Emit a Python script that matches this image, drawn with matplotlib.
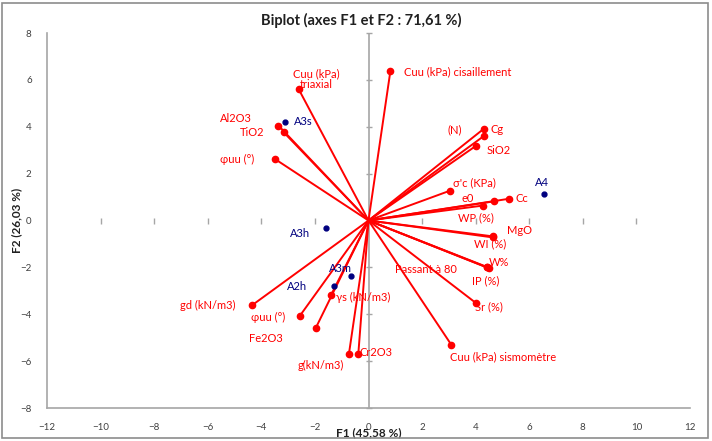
"""
Biplot (axes F1 et F2) recreated with matplotlib.
"""

import matplotlib
matplotlib.use("Agg")
import matplotlib.pyplot as plt
from matplotlib.patches import Rectangle

plt.rcParams["font.family"] = ["Lato", "DejaVu Sans"]

# --- colours ---
RED   = "#FF0000"
NAVY  = "#00007F"
GRAY  = "#A6A6A6"
TEXT  = "#404040"

# --- variables (red vectors) ---
var_names = [
    "Cuu (kPa)\ntriaxial", "Cuu (kPa) cisaillement", "Al2O3", "TiO2", "φuu (°)",
    "(N)", "Cg", "SiO2", "σ'c (KPa)", "e0", "Cc", "WP (%)", "MgO", "WI (%)",
    "W%", "IP (%)", "Passant à 80", "Sr (%)", "Cuu (kPa) sismomètre",
    "gd (kN/m3)", "φuu (°)", "Fe2O3", "γs (kN/m3)", "g(kN/m3)", "Cr2O3",
]
var_x = [-2.60, 0.82, -3.36, -3.17, -3.50,
         4.30, 4.30, 4.03, 3.06, 4.70, 5.26, 4.29, 4.66, 4.63,
         4.44, 4.48, 4.42, 4.02, 3.09,
         -4.35, -2.57, -1.97, -1.39, -0.73, -0.38]
var_y = [5.59, 6.40, 4.05, 3.77, 2.63,
         3.60, 3.91, 3.20, 1.28, 0.82, 0.93, 0.64, -0.68, -0.72,
         -1.99, -2.03, -2.00, -3.53, -5.30,
         -3.62, -4.08, -4.59, -3.16, -5.69, -5.69]

# --- observations (navy points) ---
obs_names = ["A3s", "A4", "A3h", "A3m", "A2h"]
obs_x = [-3.11, 6.54, -1.57, -0.67, -1.27]
obs_y = [4.22, 1.14, -0.33, -2.37, -2.81]

x_ticks = [-12, -10, -8, -6, -4, -2, 0, 2, 4, 6, 8, 10, 12]
y_ticks = [-8, -6, -4, -2, 0, 2, 4, 6, 8]

# label placement (offset in pixels from the point, horizontal alignment)
var_label_offsets = [
    (17, 10, "center"), (14, -1, "left"), (-43, 7, "center"), (-31, 0, "center"),
    (-38, -1, "center"), (-29, 6, "center"), (13, -1, "center"), (22, -5, "center"),
    (24, 8, "center"), (-27, 3, "center"), (12, 0, "center"), (-7, -12, "center"),
    (26, 6, "center"), (-2, -6, "center"), (12, 5, "center"), (-3, -13, "center"),
    (-61, -2, "center"), (13, -4, "center"), (-1, -12, "left"),
    (-44, 0, "center"), (-32, -1, "center"), (-50, -10, "center"), (32, -3, "center"),
    (-28, -12, "center"), (18, 1, "center"),
]
obs_label_offsets = [(18, 0), (-2, 11), (-26, -5), (-10, 8), (-37, 0)]


def main():
    fig = plt.figure(figsize=(7.12, 4.41), dpi=100)
    ax = fig.add_axes([47 / 712, 1 - 408 / 441, 643 / 712, 375 / 441])

    ax.set_xlim(x_ticks[0], x_ticks[-1])
    ax.set_ylim(y_ticks[0], y_ticks[-1])

    # zero lines: vertical axis with crossing ticks, horizontal only ticks
    ax.axvline(0, color=GRAY, linewidth=1.2, zorder=1)
    ax.plot([0] * len(y_ticks), y_ticks, linestyle="none", marker="_",
            markersize=4.5, markeredgewidth=1, color=GRAY, zorder=1, clip_on=False)
    ax.plot(x_ticks[1:-1], [0] * (len(x_ticks) - 2), linestyle="none", marker="|",
            markersize=4.5, markeredgewidth=1, color=GRAY, zorder=1)

    # variable vectors
    for x, y in zip(var_x, var_y):
        ax.plot([0, x], [0, y], color=RED, linewidth=1.4, zorder=2)
    ax.plot(var_x, var_y, linestyle="none", marker="o", markersize=4.5,
            color=RED, zorder=3)
    for name, x, y, (dx, dy, ha) in zip(var_names, var_x, var_y, var_label_offsets):
        ax.annotate(name, (x, y), xytext=(dx, dy), textcoords="offset pixels",
                    ha=ha, va="center", fontsize=8, color=RED,
                    multialignment="center", linespacing=1.0, zorder=4)

    # observations
    ax.plot(obs_x, obs_y, linestyle="none", marker="o", markersize=3.5,
            color=NAVY, zorder=3)
    for name, x, y, (dx, dy) in zip(obs_names, obs_x, obs_y, obs_label_offsets):
        ax.annotate(name, (x, y), xytext=(dx, dy), textcoords="offset pixels",
                    ha="center", va="center", fontsize=8, color=NAVY, zorder=4)

    # axes styling
    ax.set_xticks(x_ticks)
    ax.set_yticks(y_ticks)
    ax.tick_params(length=0, labelsize=7, colors=TEXT)
    ax.tick_params(axis="x", pad=11)
    ax.tick_params(axis="y", pad=11)
    for side in ["top", "right"]:
        ax.spines[side].set_visible(False)
    for side in ["left", "bottom"]:
        ax.spines[side].set_color(GRAY)
        ax.spines[side].set_linewidth(1.2)

    ax.set_xlabel("F1 (45,58 %)", fontsize=8.5, fontweight="bold", color="#202020")
    ax.xaxis.set_label_coords(0.5, -0.052)
    ax.set_ylabel("F2 (26,03 %)", fontsize=8.5, fontweight="bold", color="#202020")
    ax.yaxis.set_label_coords(-0.039, 0.5)

    fig.text(361 / 712, 1 - 20 / 441, "Biplot (axes F1 et F2 : 71,61 %)",
             ha="center", va="center", fontsize=10.5, fontweight="bold",
             color="#202020")

    # chart frame
    fig.patches.append(Rectangle((2 / 712, 3 / 441), 706 / 712, 435 / 441,
                                 transform=fig.transFigure, fill=False,
                                 edgecolor="#8C8C8C", linewidth=1.2))

    fig.savefig("out.png", dpi=100, facecolor="white")
    plt.close(fig)


if __name__ == "__main__":
    main()
